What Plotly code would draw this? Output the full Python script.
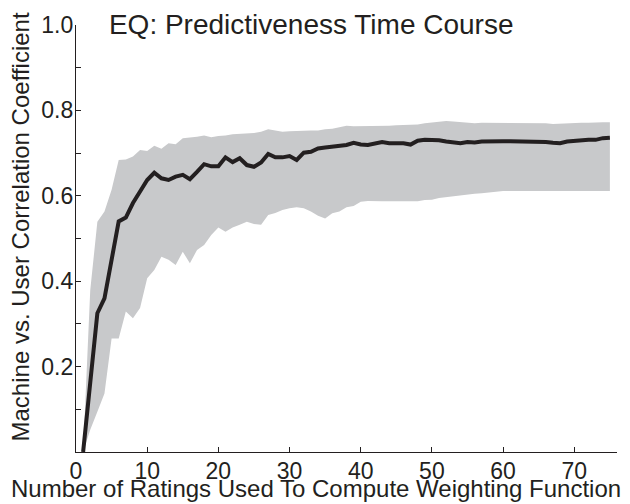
import plotly.graph_objects as go

# Number of ratings used to build the weighting function
n_ratings = list(range(1, 76))

# Mean machine-vs-user correlation per number of ratings
mean_corr = [
    0.000, 0.160, 0.325, 0.360, 0.454, 0.540, 0.549, 0.583, 0.610, 0.637,
    0.654, 0.641, 0.637, 0.645, 0.649, 0.639, 0.656, 0.674, 0.669, 0.669,
    0.690, 0.679, 0.688, 0.672, 0.668, 0.678, 0.698, 0.690, 0.690, 0.693,
    0.684, 0.701, 0.703, 0.711, 0.713, 0.715, 0.715, 0.719, 0.724, 0.720,
    0.719, 0.723, 0.726, 0.723, 0.723, 0.723, 0.720, 0.729, 0.731, 0.731,
    0.730, 0.727, 0.726, 0.723, 0.726, 0.725, 0.727, 0.728, 0.728, 0.728,
    0.728, 0.728, 0.728, 0.728, 0.728, 0.726, 0.724, 0.723, 0.727, 0.729,
    0.731, 0.731, 0.731, 0.735, 0.736,
]

# Upper edge of the shaded spread
upper_corr = [
    0.000, 0.379, 0.539, 0.563, 0.614, 0.684, 0.685, 0.692, 0.707, 0.705,
    0.717, 0.710, 0.723, 0.721, 0.735, 0.736, 0.738, 0.741, 0.737, 0.740,
    0.741, 0.744, 0.745, 0.746, 0.747, 0.750, 0.756, 0.753, 0.750, 0.751,
    0.752, 0.752, 0.753, 0.753, 0.756, 0.757, 0.761, 0.764, 0.763, 0.763,
    0.764, 0.764, 0.764, 0.764, 0.765, 0.766, 0.767, 0.767, 0.770, 0.772,
    0.773, 0.775, 0.774, 0.773, 0.771, 0.770, 0.771, 0.771, 0.771, 0.771,
    0.771, 0.771, 0.771, 0.771, 0.771, 0.770, 0.768, 0.769, 0.770, 0.770,
    0.771, 0.771, 0.772, 0.772, 0.772,
]

# Lower edge of the shaded spread
lower_corr = [
    0.000, 0.052, 0.094, 0.137, 0.266, 0.266, 0.329, 0.313, 0.337, 0.407,
    0.426, 0.457, 0.450, 0.438, 0.469, 0.442, 0.473, 0.485, 0.508, 0.526,
    0.516, 0.526, 0.532, 0.539, 0.534, 0.532, 0.555, 0.560, 0.567, 0.571,
    0.573, 0.571, 0.563, 0.553, 0.547, 0.559, 0.563, 0.573, 0.576, 0.586,
    0.588, 0.587, 0.587, 0.587, 0.587, 0.587, 0.587, 0.587, 0.590, 0.591,
    0.595, 0.597, 0.599, 0.602, 0.603, 0.605, 0.606, 0.608, 0.609, 0.611,
    0.611, 0.611, 0.611, 0.611, 0.611, 0.611, 0.611, 0.611, 0.610, 0.610,
    0.611, 0.611, 0.611, 0.611, 0.611,
]

x_ticks = [0, 10, 20, 30, 40, 50, 60, 70]
y_ticks = [0.1, 0.2, 0.3, 0.4, 0.5, 0.6, 0.7, 0.8, 0.9, 1.0]
y_ticktext = ["", "0.2", "", "0.4", "", "0.6", "", "0.8", "", "1.0"]

FONT = "Liberation Sans, Arial, sans-serif"
INK = "#231f20"
BAND = "#c8c9cb"

fig = go.Figure()

fig.add_trace(go.Scatter(
    x=n_ratings, y=lower_corr, mode="lines",
    line=dict(width=0, color=BAND), hoverinfo="skip", showlegend=False,
))
fig.add_trace(go.Scatter(
    x=n_ratings, y=upper_corr, mode="lines", fill="tonexty",
    fillcolor=BAND, line=dict(width=0, color=BAND),
    hoverinfo="skip", showlegend=False,
))
fig.add_trace(go.Scatter(
    x=n_ratings, y=mean_corr, mode="lines",
    line=dict(width=4, color=INK), showlegend=False,
))

fig.update_layout(
    width=630, height=504,
    margin=dict(l=76, r=13, t=25, b=52),
    paper_bgcolor="white", plot_bgcolor="white",
    font=dict(family=FONT, color=INK, size=23),
    title=dict(
        text="EQ: Predictiveness Time Course",
        x=0.494, xanchor="center", xref="container",
        y=0.952, yanchor="middle", yref="container",
        font=dict(size=28, color=INK, family=FONT),
    ),
    annotations=[
        dict(text="Number of Ratings Used To Compute Weighting Function",
             xref="paper", yref="paper", x=0.4427, y=-0.0855,
             xanchor="center", yanchor="middle", showarrow=False,
             borderpad=0,
             font=dict(size=24, family=FONT, color=INK)),
        dict(text="Machine vs. User Correlation Coefficient",
             xref="paper", yref="paper", x=-0.1035, y=0.5258,
             xanchor="center", yanchor="middle", textangle=-90,
             showarrow=False, font=dict(size=24, family=FONT, color=INK)),
    ],
)

fig.update_xaxes(
    range=[0, 76], tickmode="array", tickvals=x_ticks,
    ticks="inside", ticklen=5, tickwidth=1.3, tickcolor=INK,
    showline=True, linecolor=INK, linewidth=1.3,
    showgrid=False, zeroline=False, ticklabelstandoff=-2,
    tickfont=dict(size=23, family=FONT, color=INK),
)
fig.update_yaxes(
    range=[0, 1.0], tickmode="array", tickvals=y_ticks, ticktext=y_ticktext,
    ticks="inside", ticklen=5, tickwidth=1.3, tickcolor=INK,
    showline=True, linecolor=INK, linewidth=1.3,
    showgrid=False, zeroline=False, ticklabelstandoff=-3,
    tickfont=dict(size=23, family=FONT, color=INK),
)

fig.write_html("out.html")
